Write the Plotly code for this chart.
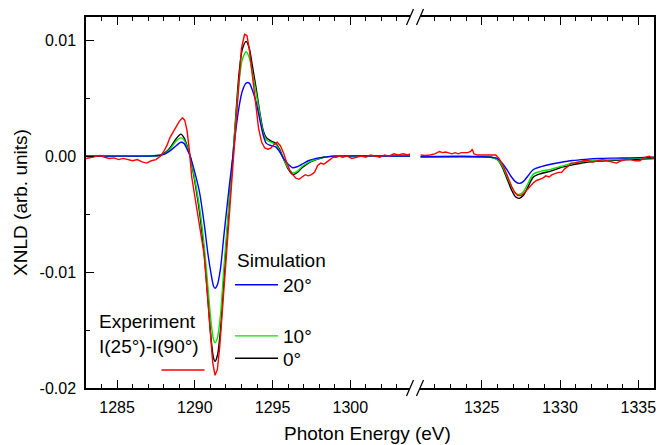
import plotly.graph_objects as go

# ---------------- data ----------------
E_sim_left = [1283.0, 1286.5, 1287.3, 1287.8, 1288.1, 1288.4, 1288.8, 1289.1, 1289.3, 1289.5,
              1289.7, 1290.0, 1290.3, 1290.6, 1290.85, 1291.05, 1291.2, 1291.3, 1291.45, 1291.65,
              1291.85, 1292.05, 1292.25, 1292.45, 1292.65, 1292.85, 1293.05, 1293.3, 1293.5, 1293.7,
              1293.95, 1294.2, 1294.4, 1294.6, 1294.9, 1295.2, 1295.45, 1295.7, 1296.0, 1296.3,
              1296.6, 1296.9, 1297.3, 1297.8, 1298.3, 1299.0, 1303.9]
sim0_left = [0.0, 0.0, 0.00003, 0.0001, 0.0003, 0.0007, 0.0015, 0.0019, 0.0016, 0.0009,
             0.0, -0.0022, -0.0048, -0.0084, -0.0125, -0.0158, -0.0174, -0.0177, -0.0172, -0.0150,
             -0.0110, -0.0072, -0.0035, 0.0000, 0.0038, 0.0072, 0.0092, 0.0099, 0.0093, 0.0078,
             0.0058, 0.0036, 0.0022, 0.0016, 0.0013, 0.0011, 0.0006, -0.0002, -0.0011, -0.0016,
             -0.0014, -0.0010, -0.0006, -0.0003, -0.0001, 0.0, 0.0]
sim10_left = [0.0, 0.0, 0.00003, 0.0001, 0.00025, 0.0006, 0.0013, 0.0016, 0.0014, 0.0008,
              0.0, -0.0020, -0.0044, -0.0077, -0.0114, -0.0144, -0.0158, -0.0161, -0.0157, -0.0137,
              -0.0100, -0.0065, -0.0032, 0.0000, 0.0034, 0.0065, 0.0083, 0.0090, 0.0085, 0.0072,
              0.0054, 0.0034, 0.0020, 0.0014, 0.0012, 0.0010, 0.0005, -0.0002, -0.0010, -0.00145,
              -0.0013, -0.0009, -0.00055, -0.00027, -0.0001, 0.0, 0.0]
sim20_left = [0.0, 0.0, 0.00002, 0.00008, 0.0002, 0.00045, 0.0009, 0.0012, 0.0011, 0.0006,
              0.0, -0.0014, -0.0031, -0.0058, -0.0085, -0.0102, -0.0112, -0.0114, -0.0111, -0.0097,
              -0.0071, -0.0046, -0.0022, 0.0000, 0.0024, 0.0043, 0.0056, 0.0063, 0.0063, 0.0057,
              0.0046, 0.0030, 0.0018, 0.0011, 0.0009, 0.0008, 0.0004, -0.0002, -0.0007, -0.0010,
              -0.0009, -0.0007, -0.0004, -0.0002, -0.0001, 0.0, 0.0]

E_sim_right = [1321.1, 1325.0, 1325.6, 1326.0, 1326.3, 1326.6, 1326.9, 1327.15, 1327.4, 1327.65,
               1327.9, 1328.3, 1328.8, 1329.4, 1330.0, 1330.8, 1331.6, 1332.5, 1333.5, 1334.5, 1336.0]
sim0_right = [-0.00005, -0.00005, -0.0001, -0.0003, -0.0009, -0.0019, -0.0029, -0.0035, -0.00364, -0.0034,
              -0.0028, -0.0018, -0.0015, -0.0013, -0.0010, -0.00075, -0.00055, -0.00043, -0.00035, -0.0003, -0.0002]
sim10_right = [-0.00005, -0.00005, -0.0001, -0.0003, -0.0008, -0.0017, -0.0026, -0.0032, -0.0033, -0.0031,
               -0.0025, -0.00155, -0.0013, -0.00115, -0.0009, -0.0006, -0.00045, -0.00037, -0.0003, -0.0002, -0.00012]
sim20_right = [-0.00005, -0.00005, -0.0001, -0.0002, -0.0006, -0.00115, -0.0018, -0.0022, -0.00235, -0.0022,
               -0.0018, -0.00115, -0.0009, -0.0007, -0.00055, -0.00038, -0.00028, -0.0002, -0.00017, -0.00015, -0.0001]

E_exp_left = [1283.0, 1283.3, 1283.6, 1283.9, 1284.2, 1284.5, 1284.8, 1285.1, 1285.4, 1285.7,
              1286.0, 1286.3, 1286.6, 1286.9, 1287.2, 1287.5, 1287.8, 1288.0, 1288.2, 1288.4,
              1288.6, 1288.8, 1289.0, 1289.2, 1289.35, 1289.5, 1289.65, 1289.8, 1290.0, 1290.2,
              1290.4, 1290.6, 1290.8, 1291.0, 1291.15, 1291.3, 1291.45, 1291.6, 1291.8, 1292.0,
              1292.2, 1292.4, 1292.6, 1292.8, 1293.0, 1293.2, 1293.35, 1293.5, 1293.7, 1293.9,
              1294.1, 1294.3, 1294.5, 1294.7, 1294.9, 1295.1, 1295.3, 1295.5, 1295.7, 1295.9,
              1296.1, 1296.3, 1296.5, 1296.7, 1296.9, 1297.1, 1297.3, 1297.5, 1297.7, 1297.9,
              1298.1, 1298.3, 1298.5, 1298.7, 1298.9, 1299.1, 1299.3, 1299.5, 1299.8, 1300.1,
              1300.4, 1300.7, 1301.0, 1301.3, 1301.6, 1301.9, 1302.2, 1302.5, 1302.8, 1303.1,
              1303.4, 1303.7, 1303.85]
exp_left = [-0.0002, -0.0001, 0.0, 0.00005, -0.0001, -0.0002, -0.00015, -0.0003, -0.0002, -0.0003,
            -0.0004, -0.0003, -0.0005, -0.0006, -0.0004, -0.0003, 0.0, 0.0004, 0.0009, 0.0016,
            0.0021, 0.0025, 0.0030, 0.0033, 0.0031, 0.0022, 0.0005, -0.0018, -0.0035, -0.0050,
            -0.0065, -0.0085, -0.0118, -0.0155, -0.0178, -0.0189, -0.0184, -0.0165, -0.0128, -0.0088,
            -0.0052, -0.0020, 0.0020, 0.0062, 0.0093, 0.0105, 0.0104, 0.0093, 0.0070, 0.0045,
            0.0024, 0.0012, 0.0007, 0.0006, 0.0007, 0.0010, 0.0012, 0.0009, 0.0003, -0.0005,
            -0.0012, -0.0016, -0.0019, -0.0020, -0.0018, -0.0016, -0.0017, -0.0016, -0.0014, -0.0008,
            -0.0006, -0.0007, -0.0005, -0.0003, -0.0001, -0.0001, 0.0, -0.0001, 0.0, -0.0002,
            -0.0001, 0.0, -0.0001, 0.0001, 0.0, -0.0001, 0.0001, 0.0, 0.0002, 0.0001,
            0.0002, 0.0001, 0.0002]

E_exp_right = [1321.1, 1321.4, 1321.7, 1322.0, 1322.3, 1322.5, 1322.7, 1322.9, 1323.1, 1323.3,
               1323.5, 1323.7, 1323.9, 1324.1, 1324.3, 1324.4, 1324.5, 1324.7, 1324.9, 1325.1,
               1325.4, 1325.7, 1325.9, 1326.1, 1326.4, 1326.7, 1326.9, 1327.1, 1327.3, 1327.5,
               1327.7, 1327.9, 1328.1, 1328.3, 1328.5, 1328.7, 1328.9, 1329.1, 1329.3, 1329.5,
               1329.7, 1329.9, 1330.1, 1330.3, 1330.5, 1330.7, 1330.9, 1331.2, 1331.5, 1331.8,
               1332.1, 1332.4, 1332.7, 1333.0, 1333.3, 1333.6, 1333.9, 1334.2, 1334.5, 1334.8,
               1335.1, 1335.4, 1335.7, 1336.0]
exp_right = [0.0001, 0.00005, 0.0001, 0.0002, 0.0004, 0.0003, 0.00035, 0.0003, 0.0002, 0.0003,
             0.0002, 0.0003, 0.0003, 0.0003, 0.0004, 0.0006, 0.0002, 0.0001, 0.0001, 0.0001,
             0.00005, 0.0001, 0.0001, -0.0002, -0.0009, -0.0019, -0.0026, -0.0031, -0.0034, -0.0034,
             -0.0032, -0.0029, -0.0026, -0.0023, -0.0021, -0.0020, -0.0019, -0.0017, -0.0018, -0.0016,
             -0.0015, -0.0014, -0.0014, -0.0011, -0.0009, -0.0006, -0.0006, -0.0005, -0.0004, -0.0004,
             -0.0005, -0.0004, -0.0003, -0.0004, -0.0005, -0.0006, -0.0004, -0.0003, -0.0003, -0.0004,
             -0.0004, -0.0001, 0.0, -0.0002]

x_range_left = [1283.0, 1303.84]
x_range_right = [1321.06, 1336.0]
y_range = [-0.02, 0.012]
y_tickvals = [-0.02, -0.01, 0.0, 0.01]
y_ticktext = ["-0.02", "-0.01", "0.00", "0.01"]

sim_names = ["20°", "10°", "0°"]
exp_label = "Experiment<br>I(25°)-I(90°)"
sim_label = "Simulation"
x_title = "Photon Energy (eV)"
y_title = "XNLD (arb. units)"

# ---------------- layout geometry ----------------
# the page body adds an 8 px offset, so the figure is 8 px smaller and shifted
OFF = 8
W, H = 661, 437
ML, MR, MT, MB = 78, 15, 7, 57
PW, PH = W - ML - MR, H - MT - MB


def px(xp):  # window pixel -> paper fraction
    return (xp - OFF - ML) / PW


def py(yp):
    return (H - MB - (yp - OFF)) / PH


FONT = "Liberation Sans, Arial, sans-serif"
RED, GREEN, BLUE, BLACK = "#ff0000", "#00e600", "#0000ff", "#000000"
LW = 1.4

fig = go.Figure()

panels = [
    ("x", "y", E_sim_left, sim0_left, sim10_left, sim20_left, E_exp_left, exp_left, True),
    ("x2", "y2", E_sim_right, sim0_right, sim10_right, sim20_right, E_exp_right, exp_right, False),
]
for xa, ya, es, s0, s10, s20, ee, ex, leg in panels:
    fig.add_trace(go.Scatter(x=es, y=s0, xaxis=xa, yaxis=ya, mode="lines", name=sim_names[2],
                             line=dict(color=BLACK, width=LW, shape="spline", smoothing=0.8),
                             showlegend=leg, legend="legend3"))
    fig.add_trace(go.Scatter(x=es, y=s10, xaxis=xa, yaxis=ya, mode="lines", name=sim_names[1],
                             line=dict(color=GREEN, width=LW, shape="spline", smoothing=0.8),
                             showlegend=leg, legend="legend2"))
    fig.add_trace(go.Scatter(x=es, y=s20, xaxis=xa, yaxis=ya, mode="lines", name=sim_names[0],
                             line=dict(color=BLUE, width=LW, shape="spline", smoothing=0.8),
                             showlegend=leg, legend="legend"))
    fig.add_trace(go.Scatter(x=ee, y=ex, xaxis=xa, yaxis=ya, mode="lines", name=" ",
                             line=dict(color=RED, width=LW),
                             showlegend=leg, legend="legend4"))

axis_common = dict(showline=True, linecolor="black", linewidth=1.5, showgrid=False, zeroline=False,
                   ticks="inside", ticklen=8, tickwidth=1.2, tickcolor="black",
                   tickfont=dict(family=FONT, size=16, color="black"))

fig.update_layout(
    width=W, height=H,
    margin=dict(l=ML, r=MR, t=MT, b=MB),
    paper_bgcolor="white", plot_bgcolor="white",
    font=dict(family=FONT, size=16, color="black"),
    xaxis=dict(domain=[0, px(410)], range=x_range_left, anchor="y", mirror="ticks",
               tickmode="linear", tick0=1285, dtick=5, ticklabelstandoff=4,
               minor=dict(dtick=1, tick0=1285, ticks="inside", ticklen=4, tickwidth=1.2, tickcolor="black"),
               **axis_common),
    xaxis2=dict(domain=[px(420), 1], range=x_range_right, anchor="y2", mirror="ticks",
                tickmode="linear", tick0=1325, dtick=5, ticklabelstandoff=4,
                minor=dict(dtick=1, tick0=1325, ticks="inside", ticklen=4, tickwidth=1.2, tickcolor="black"),
                **axis_common),
    yaxis=dict(domain=[0, 1], range=y_range, anchor="x",
               tickmode="array", tickvals=y_tickvals, ticktext=y_ticktext, ticklabelstandoff=5,
               minor=dict(tickmode="linear", tick0=0, dtick=0.005, ticks="inside", ticklen=4,
                          tickwidth=1.2, tickcolor="black"),
               title=dict(text=y_title, font=dict(family=FONT, size=19), standoff=7),
               **axis_common),
    yaxis2=dict(domain=[0, 1], range=y_range, anchor="x2", side="right", showline=True,
                linecolor="black", linewidth=1.5, showgrid=False, zeroline=False,
                ticks="", showticklabels=False),
)

leg_common = dict(xanchor="left", yanchor="middle", bgcolor="rgba(0,0,0,0)", borderwidth=0,
                  font=dict(family=FONT, size=19, color="black"), itemwidth=43,
                  itemclick=False, itemdoubleclick=False)
fig.update_layout(
    legend=dict(x=px(230), y=py(284.3), **leg_common),
    legend2=dict(x=px(230), y=py(335.7), **leg_common),
    legend3=dict(x=px(230), y=py(358.3), **leg_common),
    legend4=dict(x=px(156.5), y=py(370), **leg_common),
)

fig.add_annotation(text=sim_label, xref="paper", yref="paper", x=px(235), y=py(260),
                   xanchor="left", yanchor="middle", showarrow=False,
                   font=dict(family=FONT, size=19, color="black"))
fig.add_annotation(text=exp_label, xref="paper", yref="paper", x=px(96.5), y=py(334),
                   xanchor="left", yanchor="middle", showarrow=False, align="left",
                   font=dict(family=FONT, size=19, color="black"))
fig.add_annotation(text=x_title, xref="paper", yref="paper", x=px(367), y=py(433.5),
                   xanchor="center", yanchor="middle", showarrow=False,
                   font=dict(family=FONT, size=19, color="black"))

# axis-break marks
for cx in (410, 420):
    for cy in (15, 388):
        fig.add_shape(type="line", xref="paper", yref="paper",
                      x0=px(cx - 3.5), y0=py(cy + 8), x1=px(cx + 3.5), y1=py(cy - 8),
                      line=dict(color="black", width=1.3))

fig.write_html("out.html")
